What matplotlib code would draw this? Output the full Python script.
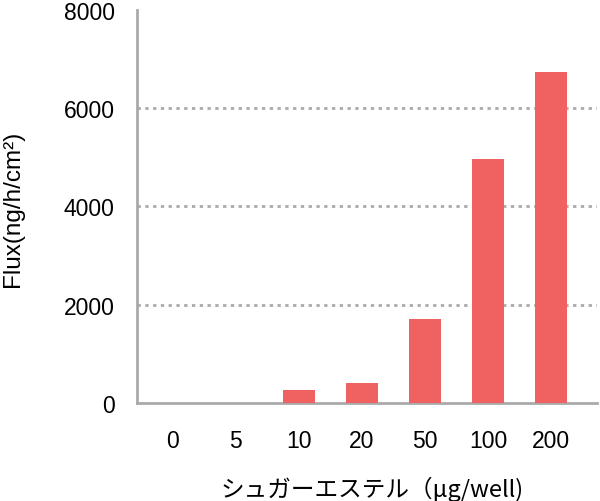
import matplotlib
matplotlib.use("Agg")
import matplotlib.pyplot as plt

plt.rcParams['font.family'] = ['Liberation Sans', 'Noto Sans CJK JP', 'DejaVu Sans']

categories = ["0", "5", "10", "20", "50", "100", "200"]
flux = [0, 0, 260, 400, 1700, 4970, 6740]
yticks = [0, 2000, 4000, 6000, 8000]

fig = plt.figure(figsize=(6.0, 5.02), dpi=100)
ax = fig.add_axes([0.228, 0.195, 0.767, 0.784])

x = list(range(len(categories)))
ax.bar(x, flux, width=0.5, color="#f06262", zorder=3)

ax.set_xlim(-0.57, 6.73)
ax.set_ylim(0, 8000)
ax.set_yticks(yticks)
ax.set_yticklabels([str(v) for v in yticks], fontsize=16.5, family="Liberation Sans")
ax.set_xticks(x)
ax.set_xticklabels(categories, fontsize=16.5, family="Liberation Sans")
ax.tick_params(axis='both', length=0)
ax.tick_params(axis='y', pad=16)
ax.tick_params(axis='x', pad=19)

for v in yticks[1:-1]:
    ax.axhline(v, color="#aaaaaa", linestyle=(0, (1.2, 1.6)), linewidth=2, zorder=1)

for s in ["top", "right"]:
    ax.spines[s].set_visible(False)
for s in ["left", "bottom"]:
    ax.spines[s].set_color("#aaaaaa")
    ax.spines[s].set_linewidth(2)

fig.text(13 / 600, 1 - 209 / 502, "Flux(ng/h/cm²)", fontsize=17.5,
         rotation=90, ha="center", va="center", family="Liberation Sans")
fig.text(372 / 600, 1 - 489 / 502, "シュガーエステル（μg/well)", fontsize=17,
         ha="center", va="center", family=['Noto Sans CJK JP', 'DejaVu Sans'])

fig.savefig("out.png", dpi=100)
